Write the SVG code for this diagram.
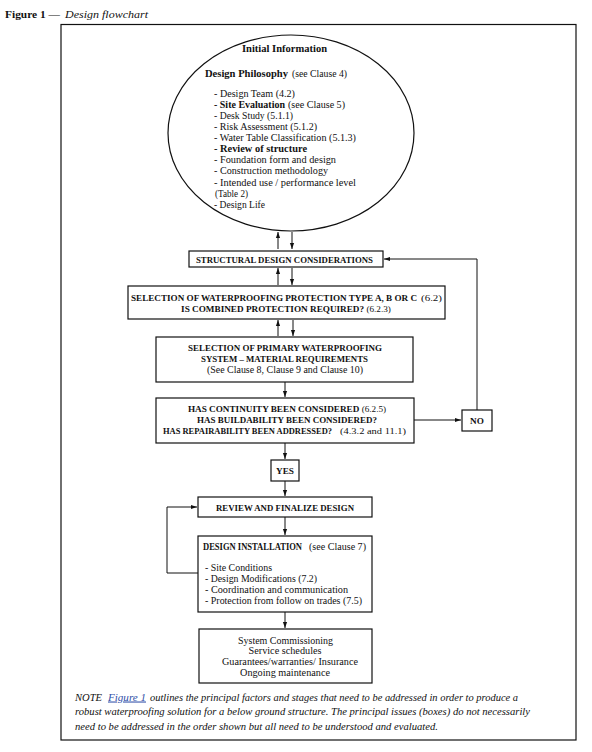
<svg xmlns="http://www.w3.org/2000/svg" width="592" height="752" viewBox="0 0 592 752">
<defs>
<marker id="ah" viewBox="0 0 10 10" refX="10" refY="5" markerWidth="6" markerHeight="6" markerUnits="userSpaceOnUse" orient="auto">
<path d="M0,1.5 L10,5 L0,8.5 Z" fill="#111"/>
</marker>
<style>
text{font-family:"Liberation Serif","DejaVu Serif",serif;fill:#111;}
.t{font-size:10px;}
.b{font-weight:bold;}
.c{text-anchor:middle;}
.cap{font-size:9.2px;font-weight:bold;text-anchor:middle;}
.capl{font-size:9px;font-weight:bold;}
.capn{font-size:9px;}
.box{fill:#fff;stroke:#111;stroke-width:1.2;}
.ar{fill:none;stroke:#111;stroke-width:1;marker-end:url(#ah);}
.note{font-size:10.5px;font-style:italic;}
</style>
</defs>
<rect width="592" height="752" fill="#fff"/>
<text x="5" y="18" style="font-size:11px;font-weight:bold" textLength="55" lengthAdjust="spacingAndGlyphs">Figure 1 —</text>
<text x="65" y="18" style="font-size:11px;font-style:italic" textLength="83" lengthAdjust="spacingAndGlyphs">Design flowchart</text>
<rect x="61" y="24.5" width="515" height="715.5" fill="none" stroke="#111" stroke-width="1.2"/>

<g id="connectors">
<path class="ar" d="M278,249 V232"/>
<path class="ar" d="M292,232 V249"/>
<path class="ar" d="M278,285 V268"/>
<path class="ar" d="M292,268 V285"/>
<path class="ar" d="M278,336 V320"/>
<path class="ar" d="M293,320 V336"/>
<path class="ar" d="M285,382 V397"/>
<path class="ar" d="M414,420 H461"/>
<path class="ar" d="M477,410 V259 H384"/>
<path class="ar" d="M285,443 V459"/>
<path class="ar" d="M285,481 V496"/>
<path class="ar" d="M285,517 V535"/>
<path class="ar" d="M198,573 H167 V507 H197"/>
<path class="ar" d="M285,612 V628"/>
</g>

<g id="initial">
<ellipse cx="291" cy="133" rx="123" ry="98" fill="#fff" stroke="#111" stroke-width="1.2"/>
<text x="242" y="52" class="t b" textLength="85" lengthAdjust="spacingAndGlyphs">Initial Information</text>
<text x="205" y="76.5" class="t b" textLength="83" lengthAdjust="spacingAndGlyphs">Design Philosophy</text>
<text x="292" y="76.5" class="t" textLength="55" lengthAdjust="spacingAndGlyphs">(see Clause 4)</text>
<text x="214" y="96.5" class="t" textLength="81" lengthAdjust="spacingAndGlyphs">- Design Team (4.2)</text>
<text x="214" y="107.5" class="t b" textLength="71" lengthAdjust="spacingAndGlyphs">- Site Evaluation</text>
<text x="288" y="107.5" class="t" textLength="57" lengthAdjust="spacingAndGlyphs">(see Clause 5)</text>
<text x="214" y="118.5" class="t" textLength="79" lengthAdjust="spacingAndGlyphs">- Desk Study (5.1.1)</text>
<text x="214" y="130" class="t" textLength="103" lengthAdjust="spacingAndGlyphs">- Risk Assessment (5.1.2)</text>
<text x="214" y="141" class="t" textLength="142" lengthAdjust="spacingAndGlyphs">- Water Table Classification (5.1.3)</text>
<text x="214" y="152" class="t b" textLength="93" lengthAdjust="spacingAndGlyphs">- Review of structure</text>
<text x="214" y="163" class="t" textLength="122" lengthAdjust="spacingAndGlyphs">- Foundation form and design</text>
<text x="214" y="174" class="t" textLength="114" lengthAdjust="spacingAndGlyphs">- Construction methodology</text>
<text x="214" y="185.5" class="t" textLength="142" lengthAdjust="spacingAndGlyphs">- Intended use / performance level</text>
<text x="215" y="196.5" class="t" textLength="33" lengthAdjust="spacingAndGlyphs">(Table 2)</text>
<text x="214" y="207.5" class="t" textLength="51" lengthAdjust="spacingAndGlyphs">- Design Life</text>
</g>

<g id="structural">
<rect class="box" x="189" y="251" width="194" height="16"/>
<text x="284.5" y="262.5" class="cap" textLength="177" lengthAdjust="spacingAndGlyphs">STRUCTURAL DESIGN CONSIDERATIONS</text>
</g>

<g id="selection-type">
<rect class="box" x="128" y="286" width="317" height="33"/>
<text x="131" y="300.5" class="capl" textLength="286" lengthAdjust="spacingAndGlyphs">SELECTION OF WATERPROOFING PROTECTION TYPE A, B OR C</text>
<text x="421" y="300.5" class="capn" textLength="21" lengthAdjust="spacingAndGlyphs">(6.2)</text>
<text x="286" y="312" class="cap">IS COMBINED PROTECTION REQUIRED? <tspan font-weight="normal">(6.2.3)</tspan></text>
</g>

<g id="selection-primary">
<rect class="box" x="156" y="337" width="257" height="45"/>
<text x="285" y="350.5" class="cap" textLength="194" lengthAdjust="spacingAndGlyphs">SELECTION OF PRIMARY WATERPROOFING</text>
<text x="284.5" y="361.5" class="cap" textLength="167" lengthAdjust="spacingAndGlyphs">SYSTEM – MATERIAL REQUIREMENTS</text>
<text x="285" y="372.5" class="t c" textLength="156" lengthAdjust="spacingAndGlyphs">(See Clause 8, Clause 9 and Clause 10)</text>
</g>

<g id="continuity">
<rect class="box" x="156" y="398" width="258" height="45"/>
<text x="287" y="412" class="cap">HAS CONTINUITY BEEN CONSIDERED <tspan font-weight="normal">(6.2.5)</tspan></text>
<text x="287" y="423" class="cap" textLength="180" lengthAdjust="spacingAndGlyphs">HAS BUILDABILITY BEEN CONSIDERED?</text>
<text x="163" y="434" class="capl" textLength="169" lengthAdjust="spacingAndGlyphs">HAS REPAIRABILITY BEEN ADDRESSED?</text>
<text x="340" y="434" class="capn" textLength="66" lengthAdjust="spacingAndGlyphs">(4.3.2 and 11.1)</text>
</g>

<g id="no">
<rect class="box" x="462" y="410" width="30" height="21"/>
<text x="477" y="424" class="cap">NO</text>
</g>

<g id="yes">
<rect class="box" x="271" y="460" width="28" height="21"/>
<text x="285" y="474" class="cap">YES</text>
</g>

<g id="review">
<rect class="box" x="198" y="497" width="174" height="20"/>
<text x="285" y="510.5" class="cap" textLength="138" lengthAdjust="spacingAndGlyphs">REVIEW AND FINALIZE DESIGN</text>
</g>

<g id="installation">
<rect class="box" x="198" y="536" width="174" height="76"/>
<text x="203" y="549.5" class="b" style="font-size:9.5px" textLength="99" lengthAdjust="spacingAndGlyphs">DESIGN INSTALLATION</text>
<text x="309" y="549.5" class="t" textLength="57" lengthAdjust="spacingAndGlyphs">(see Clause 7)</text>
<text x="205" y="570.5" class="t" textLength="67" lengthAdjust="spacingAndGlyphs">- Site Conditions</text>
<text x="205" y="581.5" class="t" textLength="112" lengthAdjust="spacingAndGlyphs">- Design Modifications (7.2)</text>
<text x="205" y="592.5" class="t" textLength="143" lengthAdjust="spacingAndGlyphs">- Coordination and communication</text>
<text x="205" y="603.5" class="t" textLength="157" lengthAdjust="spacingAndGlyphs">- Protection from follow on trades (7.5)</text>
</g>

<g id="commissioning">
<rect class="box" x="199" y="629" width="173" height="54"/>
<text x="285.5" y="643.5" class="t c" textLength="95" lengthAdjust="spacingAndGlyphs">System Commissioning</text>
<text x="285" y="654" class="t c" textLength="73" lengthAdjust="spacingAndGlyphs">Service schedules</text>
<text x="290" y="664.5" class="t c" textLength="136" lengthAdjust="spacingAndGlyphs">Guarantees/warranties/ Insurance</text>
<text x="285" y="675.5" class="t c" textLength="90" lengthAdjust="spacingAndGlyphs">Ongoing maintenance</text>
</g>

<g id="note">
<text x="75" y="700.5" class="note" textLength="27" lengthAdjust="spacingAndGlyphs">NOTE</text>
<text x="108" y="700.5" class="note" style="fill:#2f4fa8" text-decoration="underline" textLength="38" lengthAdjust="spacingAndGlyphs">Figure 1</text>
<text x="150" y="700.5" class="note" textLength="368" lengthAdjust="spacingAndGlyphs">outlines the principal factors and stages that need to be addressed in order to produce a</text>
<text x="75" y="715" class="note" textLength="455" lengthAdjust="spacingAndGlyphs">robust waterproofing solution for a below ground structure. The principal issues (boxes) do not necessarily</text>
<text x="75" y="729.5" class="note" textLength="363" lengthAdjust="spacingAndGlyphs">need to be addressed in the order shown but all need to be understood and evaluated.</text>
</g>
</svg>
